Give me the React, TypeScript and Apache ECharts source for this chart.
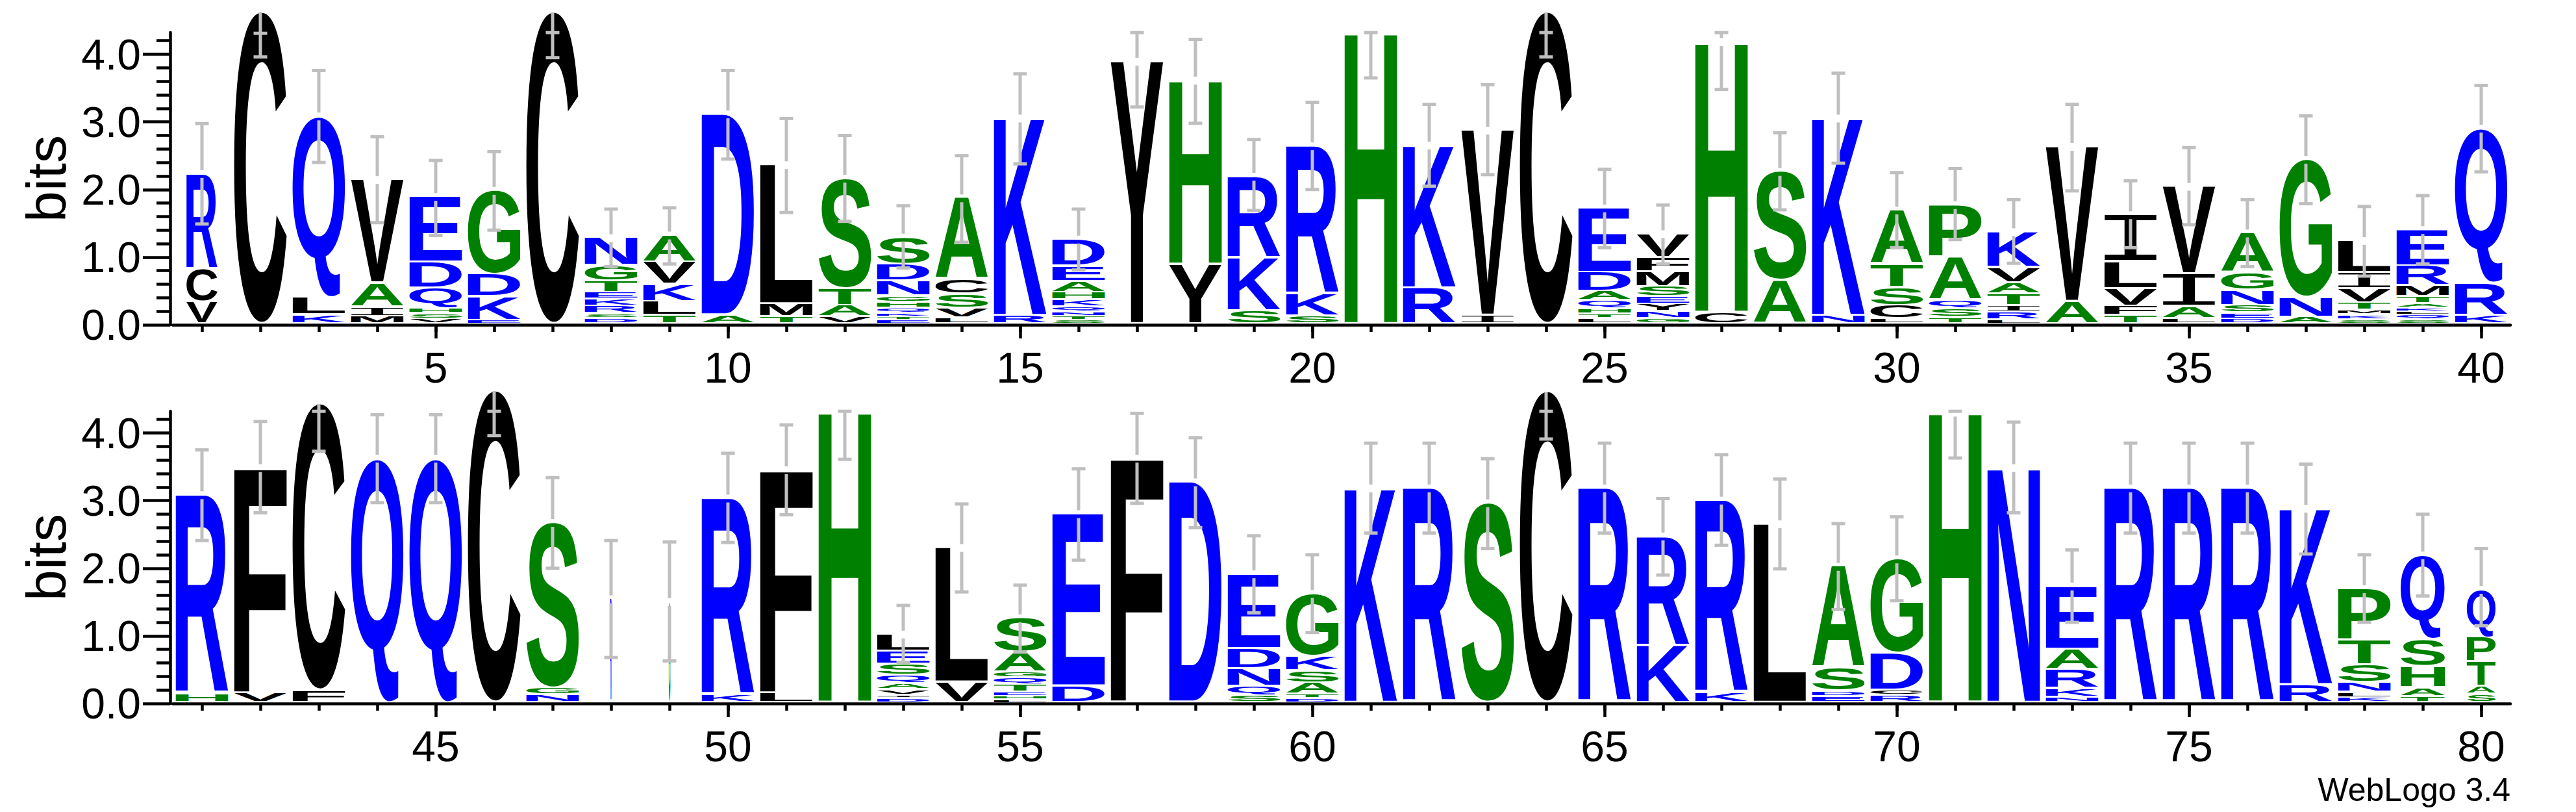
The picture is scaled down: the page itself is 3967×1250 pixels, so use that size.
import React, { useEffect, useRef } from "react";
import * as echarts from "echarts";

// ---------------- data ----------------
const YMAX = Math.log2(20);

const POSITIONS_TOP = [1,2,3,4,5,6,7,8,9,10,11,12,13,14,15,16,17,18,19,20,21,22,23,24,25,26,27,28,29,30,31,32,33,34,35,36,37,38,39,40];
const POSITIONS_BOTTOM = [41,42,43,44,45,46,47,48,49,50,51,52,53,54,55,56,57,58,59,60,61,62,63,64,65,66,67,68,69,70,71,72,73,74,75,76,77,78,79,80];

const X_LABELS_TOP = [5,10,15,20,25,30,35,40];
const X_LABELS_BOTTOM = [45,50,55,60,65,70,75,80];
const Y_MAJOR = [0,1,2,3,4];
const Y_MINOR = [0.2,0.4,0.6,0.8,1.2,1.4,1.6,1.8,2.2,2.4,2.6,2.8,3.2,3.4,3.6,3.8,4.2];

// letters of each stack, bottom to top
const LETTERS_TOP = ["VCR","C","KLQ","MIAV","VSHQDE","EKDG","C","DSRKETGN","TLKVA","AD",
  "TML","VATS","ETKQHGNDS","LVSCA","RK","STNQKHAED","Y","YH","SKR","SKR",
  "H","RK","IV","C","LTHQADE","GNYESMFV","CH","AS","NK","LCSTA",
  "TSQAP","LRITAVK","AV","TFVLI","LAIV","DESNGA","ANG","SKMTVIL","SQLKATMRE","KRQ"];
const HEIGHTS_TOP: number[][] = [
  [0.33,0.49,1.41],[4.62],[0.14,0.26,2.68],[0.12,0.14,0.35,1.53],[0.08,0.08,0.08,0.30,0.38,0.97],
  [0.06,0.35,0.33,1.24],[4.62],[0.09,0.07,0.11,0.10,0.10,0.17,0.23,0.41],[0.13,0.21,0.25,0.33,0.40],[0.14,2.97],
  [0.11,0.19,2.06],[0.11,0.17,0.25,1.63],[0.06,0.05,0.05,0.08,0.09,0.09,0.22,0.25,0.40],[0.10,0.14,0.21,0.22,1.20],[0.13,2.92],
  [0.06,0.06,0.06,0.08,0.10,0.11,0.16,0.23,0.40],[3.89],[0.89,2.72],[0.20,0.78,1.21],[0.12,0.33,2.19],
  [4.32],[0.54,2.11],[0.13,2.74],[4.62],[0.09,0.06,0.08,0.12,0.14,0.28,0.95],
  [0.09,0.10,0.11,0.11,0.15,0.22,0.21,0.35],[0.18,4.00],[0.65,1.61],[0.13,2.92],[0.08,0.20,0.27,0.34,0.80],
  [0.10,0.13,0.13,0.64,0.77],[0.07,0.11,0.10,0.17,0.16,0.23,0.53],[0.34,2.29],[0.13,0.14,0.26,0.40,0.69],[0.09,0.18,0.48,1.29],
  [0.08,0.09,0.11,0.22,0.26,0.59],[0.11,0.29,2.04],[0.07,0.07,0.07,0.11,0.21,0.24,0.47],[0.07,0.07,0.05,0.05,0.07,0.10,0.16,0.30,0.53],[0.13,0.48,2.29]
];
const WIDTHS_TOP = [0.59,1,1,1,1,1,1,1,1,1,1,1,1,1,1,1,1,1,1,1,1,1,1,1,1,1,1,1,1,1,1,1,1,1,1,1,1,1,1,1];
const ERR_LO_TOP = [1.49,3.96,2.40,1.51,1.32,1.40,3.95,0.86,0.90,2.45,1.66,1.53,0.84,1.22,2.38,0.81,3.22,2.98,1.69,2.00,
  3.65,2.05,2.22,3.96,1.14,0.90,3.48,1.70,2.39,1.14,1.26,0.91,1.98,1.14,1.48,0.86,1.79,0.72,0.90,2.26];
const ERR_HI_TOP = [2.975,4.31,3.76,2.78,2.43,2.56,4.32,1.71,1.73,3.76,3.05,2.80,1.76,2.50,3.71,1.71,4.32,4.22,2.74,3.29,
  4.32,3.26,3.55,4.32,2.30,1.77,4.32,2.84,3.72,2.25,2.31,1.85,3.26,2.13,2.62,1.85,3.09,1.75,1.91,3.54];

const LETTERS_BOTTOM = ["HR","VF","FC","Q","Q","C","NGS","R","G","KR",
  "LF","H","DIVAQSEL","VL","LHETQGAS","DE","F","D","SQNDE","DTASKG",
  "K","R","S","C","R","KR","KR","L","EDSA","RCDG",
  "H","N","NKRAE","R","R","R","RK","KLNSTP","TAHSQ","SATPQ"];
const HEIGHTS_BOTTOM: number[][] = [
  [0.14,2.94],[0.15,3.33],[0.19,4.24],[3.62],[3.62],[4.62],[0.12,0.10,2.45],[1.54],[1.50],[0.12,2.91],
  [0.15,3.30],[4.31],[0.07,0.05,0.08,0.09,0.12,0.17,0.19,0.25],[0.31,1.99],[0.05,0.05,0.06,0.11,0.10,0.09,0.29,0.51],[0.25,2.55],[3.62],[3.27],[0.11,0.14,0.26,0.30,1.10],[0.07,0.06,0.17,0.18,0.21,0.93],
  [3.18],[3.18],[2.96],[4.61],[3.18],[0.85,1.62],[0.15,2.85],[2.65],[0.10,0.08,0.34,1.50],[0.11,0.08,0.55,1.39],
  [4.30],[3.48],[0.09,0.13,0.28,0.30,0.93],[3.18],[3.18],[3.18],[0.27,2.61],[0.08,0.08,0.14,0.27,0.36,0.76],[0.10,0.13,0.31,0.40,1.25],[0.13,0.12,0.36,0.36,0.71]
];
const WIDTHS_BOTTOM = [1,1,1,1,1,1,1,0.03,0.03,1,1,1,1,1,1,1,1,1,1,1,1,1,1,1,1,1,1,1,1,1,1,1,1,1,1,1,1,1,0.84,0.55];
const ERR_LO_BOTTOM = [2.41,2.82,3.73,2.97,2.97,3.96,2.00,0.68,0.63,2.38,2.79,3.61,0.61,1.65,0.76,2.12,2.96,2.60,1.34,1.05,
  2.52,2.52,2.29,3.91,2.52,1.90,2.34,1.99,1.39,1.52,3.63,2.82,1.20,2.52,2.52,2.52,2.21,1.20,1.59,1.15];
const ERR_HI_BOTTOM = [3.75,4.17,4.32,4.27,4.27,4.32,3.34,2.41,2.39,3.70,4.12,4.32,1.45,2.95,1.75,3.47,4.29,3.93,2.48,2.20,
  3.85,3.85,3.62,4.32,3.85,3.03,3.68,3.32,2.66,2.76,4.32,4.16,2.27,3.85,3.85,3.85,3.54,2.20,2.80,2.29];

// ---------------- styling ----------------
const BLUE = "#0000FF";
const GREEN = "#008000";
const BLACK = "#000000";
const ERR_COLOR = "#BFBFBF";
const COLOR_OF: Record<string, string> = {};
"RKDENQ".split("").forEach((c) => (COLOR_OF[c] = BLUE));
"SGHTAP".split("").forEach((c) => (COLOR_OF[c] = GREEN));
"YVMCLFIW".split("").forEach((c) => (COLOR_OF[c] = BLACK));

const LETTER_FONT = "bold 200px 'Liberation Sans'";
const I_FONT = "200px 'Liberation Mono'";
const AXIS_FONT = "Liberation Sans";

let measureCtx: CanvasRenderingContext2D | null = null;
const boxCache: Record<string, { l: number; r: number; t: number; b: number }> = {};
function glyphBox(ch: string, font: string) {
  const key = font + "|" + ch;
  if (boxCache[key]) return boxCache[key];
  if (!measureCtx) measureCtx = document.createElement("canvas").getContext("2d");
  const ctx = measureCtx as CanvasRenderingContext2D;
  ctx.font = font;
  ctx.textBaseline = "alphabetic";
  ctx.textAlign = "left";
  const m = ctx.measureText(ch);
  const c = (m.fontBoundingBoxAscent - m.fontBoundingBoxDescent) / 2;
  const box = {
    l: -m.actualBoundingBoxLeft,
    r: m.actualBoundingBoxRight,
    t: c - m.actualBoundingBoxAscent,
    b: c + m.actualBoundingBoxDescent,
  };
  boxCache[key] = box;
  return box;
}

function glyph(ch: string, x0: number, x1: number, yt: number, yb: number) {
  const font = ch === "I" ? I_FONT : LETTER_FONT;
  const g = glyphBox(ch, font);
  const sx = (x1 - x0) / (g.r - g.l);
  const sy = (yb - yt) / (g.b - g.t);
  return {
    type: "text",
    x: x0 - sx * g.l,
    y: yt - sy * g.t,
    scaleX: sx,
    scaleY: sy,
    silent: true,
    style: {
      text: ch,
      x: 0,
      y: 0,
      font,
      fill: COLOR_OF[ch] || BLACK,
      align: "left",
      verticalAlign: "middle",
      textAlign: "left",
      textVerticalAlign: "middle",
    },
  };
}

function letterRenderer(letters: string[], heights: number[][], widths: number[]) {
  return (params: any, api: any) => {
    const i = params.dataIndex;
    const pos = api.value(0);
    const w = 0.9 * widths[i];
    const xl = api.coord([pos - w / 2, 0])[0];
    const xr = api.coord([pos + w / 2, 0])[0];
    const y0 = api.coord([pos, 0])[1];
    const ppb = y0 - api.coord([pos, 1])[1];
    const children: any[] = [];
    let cum = 0;
    const ls = letters[i];
    for (let k = 0; k < ls.length; k++) {
      const h = heights[i][k];
      const yb = y0 - cum * ppb;
      const yt = y0 - (cum + h) * ppb;
      cum += h;
      const hp = yb - yt;
      const insB = k === 0 ? Math.min(4, hp * 0.45) : Math.min(3, hp * 0.45);
      children.push(glyph(ls[k], xl, xr, yt, yb - insB));
    }
    return { type: "group", children };
  };
}

function errRenderer(heights: number[][], lo: number[], hi: number[]) {
  return (params: any, api: any) => {
    const i = params.dataIndex;
    const pos = api.value(0);
    const total = heights[i].reduce((a, b) => a + b, 0);
    const X = api.coord([pos, 0])[0];
    const py = (v: number) => api.coord([pos, v])[1];
    const yLo = py(lo[i]);
    const yHi = py(hi[i]);
    const yTop = py(total);
    const GAP = 6;
    const children: any[] = [];
    const seg = (x1: number, y1: number, x2: number, y2: number) =>
      children.push({
        type: "line",
        silent: true,
        shape: { x1, y1, x2, y2 },
        style: { stroke: ERR_COLOR, lineWidth: 5, lineCap: "butt" },
      });
    if (total < YMAX - 0.02) {
      if (yLo - (yTop + GAP) > 0) seg(X, yLo, X, yTop + GAP);
      if (yTop - GAP - yHi > 0) seg(X, yTop - GAP, X, yHi);
    } else {
      seg(X, yLo, X, Math.min(yHi, yTop));
    }
    seg(X - 10.5, yLo, X + 10.5, yLo);
    seg(X - 10.5, yHi, X + 10.5, yHi);
    return { type: "group", children };
  };
}

const AX_LINE = { color: BLACK, width: 4.5 };

function panel(gi: number, positions: number[], xLabels: number[], letters: string[], heights: number[][], widths: number[], lo: number[], hi: number[]) {
  const min = positions[0] - 0.5;
  const max = positions[positions.length - 1] + 0.5;
  const xAxes = [
    {
      gridIndex: gi, type: "value", position: "bottom", min, max,
      axisLine: { show: true, onZero: false, lineStyle: AX_LINE },
      axisTick: { show: true, customValues: positions, length: 11, lineStyle: AX_LINE },
      axisLabel: { show: false },
      splitLine: { show: false },
    },
    {
      gridIndex: gi, type: "value", position: "bottom", min, max,
      axisLine: { show: false, onZero: false },
      axisTick: { show: true, customValues: xLabels, length: 21, lineStyle: AX_LINE },
      axisLabel: {
        show: true, customValues: xLabels, margin: 33, fontSize: 66, fontFamily: AXIS_FONT, color: BLACK,
        formatter: (v: number) => String(v),
      },
      splitLine: { show: false },
    },
  ];
  const yAxes = [
    {
      gridIndex: gi, type: "value", position: "left", offset: 4, min: 0, max: YMAX,
      name: "bits", nameLocation: "middle", nameGap: 147,
      nameTextStyle: { fontSize: 86, fontFamily: AXIS_FONT, color: BLACK },
      axisLine: { show: true, onZero: false, lineStyle: AX_LINE },
      axisTick: { show: true, customValues: Y_MAJOR, length: 42, lineStyle: AX_LINE },
      axisLabel: {
        show: true, customValues: Y_MAJOR, margin: 45, fontSize: 66, fontFamily: AXIS_FONT, color: BLACK,
        formatter: (v: number) => v.toFixed(1),
      },
      splitLine: { show: false },
    },
    {
      gridIndex: gi, type: "value", position: "left", offset: 4, min: 0, max: YMAX,
      axisLine: { show: false, onZero: false },
      axisTick: { show: true, customValues: Y_MINOR, length: 21, lineStyle: AX_LINE },
      axisLabel: { show: false },
      splitLine: { show: false },
    },
  ];
  const data = positions.map((p) => [p, 0]);
  const series = [
    {
      type: "custom", coordinateSystem: "cartesian2d", xAxisIndex: gi * 2, yAxisIndex: gi * 2,
      data, clip: false, silent: true, z: 2,
      renderItem: letterRenderer(letters, heights, widths),
    },
    {
      type: "custom", coordinateSystem: "cartesian2d", xAxisIndex: gi * 2, yAxisIndex: gi * 2,
      data, clip: false, silent: true, z: 3,
      renderItem: errRenderer(heights, lo, hi),
    },
  ];
  return { xAxes, yAxes, series };
}

export default function App() {
  const ref = useRef<HTMLDivElement>(null);
  useEffect(() => {
    if (!ref.current) return;
    const chart = echarts.init(ref.current, undefined, { renderer: "svg" });
    const p1 = panel(0, POSITIONS_TOP, X_LABELS_TOP, LETTERS_TOP, HEIGHTS_TOP, WIDTHS_TOP, ERR_LO_TOP, ERR_HI_TOP);
    const p2 = panel(1, POSITIONS_BOTTOM, X_LABELS_BOTTOM, LETTERS_BOTTOM, HEIGHTS_BOTTOM, WIDTHS_BOTTOM, ERR_LO_BOTTOM, ERR_HI_BOTTOM);
    const option: any = {
      animation: false,
      backgroundColor: "#ffffff",
      textStyle: { fontFamily: AXIS_FONT },
      grid: [
        { left: 266, top: 50, width: 3600, height: 450, outerBoundsMode: "none", containLabel: false },
        { left: 266, top: 633, width: 3600, height: 450, outerBoundsMode: "none", containLabel: false },
      ],
      xAxis: [...p1.xAxes, ...p2.xAxes],
      yAxis: [...p1.yAxes, ...p2.yAxes],
      series: [...p1.series, ...p2.series],
      graphic: [
        {
          type: "text", x: 3866, y: 1216, silent: true,
          style: {
            text: "WebLogo 3.4", font: "50px 'Liberation Sans'", fill: BLACK,
            align: "right", verticalAlign: "middle", textAlign: "right", textVerticalAlign: "middle",
          },
        },
      ],
    };
    chart.setOption(option);
    return () => chart.dispose();
  }, []);
  return (
    <div
      ref={ref}
      style={{ position: "absolute", left: 0, top: 0, width: "3967px", height: "1250px", background: "#fff" }}
    />
  );
}
